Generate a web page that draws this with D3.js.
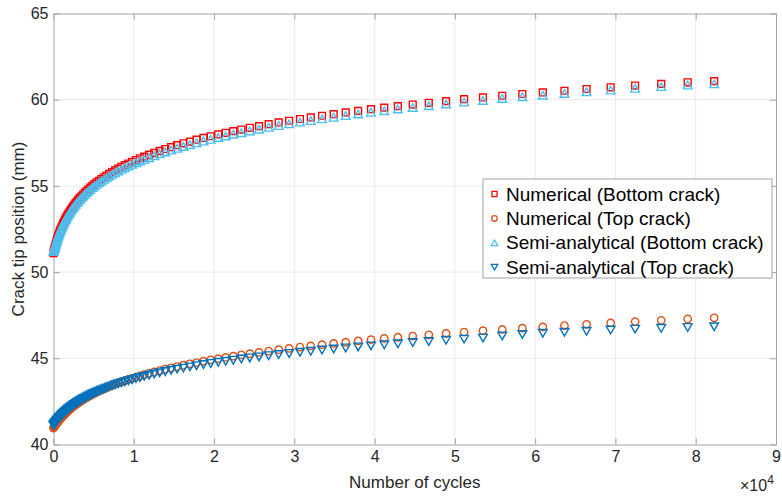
<!DOCTYPE html>
<html>
<head>
<meta charset="utf-8">
<script src="https://cdn.jsdelivr.net/npm/d3@7"></script>
<style>
  html, body { margin: 0; padding: 0; background: #fff; }
  svg { display: block; font-family: "Liberation Sans", Arial, sans-serif; }
</style>
</head>
<body>
<svg id="chart" width="782" height="496"></svg>
<script>
// Load cycle count at each recorded step (shared by all four series)
const cycles = [
  0, 50, 100, 150, 210, 270, 330, 390, 450, 520,
  600, 670, 750, 830, 920, 1000, 1100, 1190, 1300, 1400,
  1510, 1630, 1750, 1870, 2010, 2140, 2290, 2440, 2590, 2760,
  2930, 3100, 3290, 3480, 3690, 3900, 4120, 4350, 4590, 4840,
  5100, 5380, 5670, 5960, 6280, 6600, 6940, 7300, 7670, 8060,
  8460, 8880, 9330, 9790, 10270, 10770, 11300, 11900, 12550, 13220,
  13920, 14650, 15400, 16180, 16990, 17820, 18680, 19580, 20520, 21450,
  22400, 23400, 24450, 25600, 26800, 28050, 29350, 30700, 32050, 33450,
  34900, 36400, 37950, 39550, 41200, 42900, 44750, 46750, 48900, 51150,
  53500, 55900, 58400, 60950, 63650, 66400, 69400, 72450, 75700, 79000,
  82300
];

// Crack tip positions (mm)
const numericalBottom = [
  51.1, 51.2, 51.3, 51.4, 51.5, 51.6, 51.7, 51.8, 51.9, 52.0,
  52.1, 52.2, 52.3, 52.4, 52.5, 52.6, 52.7, 52.8, 52.9, 53.0,
  53.1, 53.2, 53.3, 53.4, 53.5, 53.6, 53.7, 53.8, 53.9, 54.0,
  54.1, 54.2, 54.3, 54.4, 54.5, 54.6, 54.7, 54.8, 54.9, 55.0,
  55.1, 55.2, 55.3, 55.4, 55.5, 55.6, 55.7, 55.8, 55.9, 56.0,
  56.1, 56.2, 56.3, 56.4, 56.5, 56.6, 56.70, 56.81, 56.92, 57.03,
  57.14, 57.25, 57.36, 57.47, 57.57, 57.68, 57.78, 57.88, 57.99, 58.08,
  58.18, 58.27, 58.37, 58.47, 58.58, 58.68, 58.78, 58.88, 58.97, 59.07,
  59.16, 59.26, 59.35, 59.45, 59.54, 59.63, 59.72, 59.82, 59.92, 60.03,
  60.13, 60.23, 60.33, 60.42, 60.52, 60.62, 60.72, 60.82, 60.92, 61.01,
  61.08
];

const numericalTop = [
  40.95, 40.99, 41.02, 41.06, 41.10, 41.14, 41.18, 41.21, 41.25, 41.29,
  41.34, 41.38, 41.43, 41.47, 41.52, 41.56, 41.61, 41.66, 41.71, 41.76,
  41.81, 41.86, 41.91, 41.96, 42.02, 42.07, 42.13, 42.19, 42.24, 42.30,
  42.36, 42.41, 42.47, 42.53, 42.60, 42.66, 42.72, 42.78, 42.84, 42.91,
  42.97, 43.03, 43.10, 43.16, 43.23, 43.30, 43.36, 43.43, 43.50, 43.57,
  43.63, 43.70, 43.77, 43.84, 43.91, 43.98, 44.05, 44.13, 44.21, 44.29,
  44.37, 44.45, 44.52, 44.60, 44.68, 44.75, 44.83, 44.91, 44.98, 45.05,
  45.12, 45.20, 45.27, 45.34, 45.42, 45.50, 45.57, 45.65, 45.72, 45.79,
  45.86, 45.93, 46.01, 46.08, 46.15, 46.22, 46.29, 46.36, 46.44, 46.52,
  46.60, 46.67, 46.75, 46.82, 46.90, 46.97, 47.05, 47.13, 47.20, 47.28,
  47.35
];

const semiBottom = [
  51.20, 51.27, 51.35, 51.43, 51.51, 51.60, 51.70, 51.79, 51.89, 51.99,
  52.09, 52.18, 52.28, 52.38, 52.47, 52.57, 52.66, 52.76, 52.86, 52.96,
  53.05, 53.15, 53.25, 53.35, 53.44, 53.54, 53.64, 53.73, 53.83, 53.93,
  54.03, 54.12, 54.22, 54.32, 54.42, 54.52, 54.61, 54.71, 54.80, 54.90,
  55.00, 55.09, 55.19, 55.29, 55.38, 55.48, 55.58, 55.67, 55.77, 55.87,
  55.96, 56.06, 56.16, 56.25, 56.35, 56.45, 56.54, 56.64, 56.75, 56.86,
  56.97, 57.08, 57.18, 57.29, 57.39, 57.50, 57.60, 57.70, 57.81, 57.90,
  58.00, 58.09, 58.19, 58.29, 58.40, 58.50, 58.60, 58.70, 58.79, 58.89,
  58.98, 59.08, 59.17, 59.27, 59.36, 59.46, 59.55, 59.65, 59.75, 59.86,
  59.96, 60.07, 60.17, 60.26, 60.36, 60.46, 60.56, 60.66, 60.76, 60.85,
  60.92
];

const semiTop = [
  41.10, 41.14, 41.17, 41.20, 41.24, 41.28, 41.32, 41.36, 41.39, 41.43,
  41.48, 41.52, 41.56, 41.60, 41.65, 41.69, 41.74, 41.78, 41.83, 41.87,
  41.92, 41.97, 42.02, 42.07, 42.12, 42.17, 42.22, 42.27, 42.32, 42.38,
  42.43, 42.48, 42.54, 42.59, 42.65, 42.70, 42.76, 42.81, 42.87, 42.93,
  42.98, 43.04, 43.10, 43.16, 43.22, 43.28, 43.34, 43.40, 43.46, 43.52,
  43.58, 43.64, 43.70, 43.76, 43.83, 43.89, 43.95, 44.02, 44.09, 44.16,
  44.23, 44.30, 44.37, 44.43, 44.50, 44.57, 44.64, 44.70, 44.77, 44.83,
  44.89, 44.96, 45.02, 45.08, 45.15, 45.22, 45.28, 45.35, 45.41, 45.48,
  45.54, 45.60, 45.66, 45.72, 45.78, 45.84, 45.91, 45.97, 46.04, 46.11,
  46.18, 46.30, 46.38, 46.45, 46.51, 46.57, 46.64, 46.69, 46.74, 46.79,
  46.83
];

const xTicks = [0, 10000, 20000, 30000, 40000, 50000, 60000, 70000, 80000, 90000];
const yTicks = [40, 45, 50, 55, 60, 65];

const seriesNames = [
  "Numerical (Bottom crack)",
  "Numerical (Top crack)",
  "Semi-analytical (Bottom crack)",
  "Semi-analytical (Top crack)"
];

// ---- layout ----
const plot = { left: 53.5, right: 776, top: 13.5, bottom: 444.5 };
const textColor = "#262626";
const axisColor = "#a3a3a3";
const gridColor = "#ebebeb";

const svg = d3.select("#chart");

const x = d3.scaleLinear().domain([0, 90000]).range([plot.left, plot.right]);
const y = d3.scaleLinear().domain([40, 65]).range([plot.bottom, plot.top]);

// grid
const grid = svg.append("g").attr("stroke", gridColor).attr("stroke-width", 1);
grid.selectAll("line.gx").data(xTicks.slice(1, -1)).join("line")
  .attr("x1", d => x(d)).attr("x2", d => x(d))
  .attr("y1", plot.top).attr("y2", plot.bottom);
grid.selectAll("line.gy").data(yTicks.slice(1, -1)).join("line")
  .attr("x1", plot.left).attr("x2", plot.right)
  .attr("y1", d => y(d)).attr("y2", d => y(d));

// axes (MATLAB-style box with inward ticks)
function styleAxis(g) {
  g.select(".domain").attr("stroke", axisColor);
  g.selectAll(".tick line").attr("stroke", axisColor);
  g.selectAll(".tick text").attr("fill", textColor).attr("font-size", 16)
    .attr("font-family", "'Liberation Sans', Arial, sans-serif");
}

svg.append("g").attr("transform", `translate(0,${plot.bottom})`)
  .call(d3.axisBottom(x).tickValues(xTicks).tickSizeInner(-6).tickSizeOuter(0)
    .tickPadding(6).tickFormat(d => d / 10000))
  .call(styleAxis);
svg.append("g").attr("transform", `translate(0,${plot.top})`)
  .call(d3.axisTop(x).tickValues(xTicks).tickSizeInner(-6).tickSizeOuter(0).tickFormat(""))
  .call(styleAxis);
svg.append("g").attr("transform", `translate(${plot.left},0)`)
  .call(d3.axisLeft(y).tickValues(yTicks).tickSizeInner(-6).tickSizeOuter(0)
    .tickPadding(5).tickFormat(d3.format("d")))
  .call(styleAxis);
svg.append("g").attr("transform", `translate(${plot.right},0)`)
  .call(d3.axisRight(y).tickValues(yTicks).tickSizeInner(-6).tickSizeOuter(0).tickFormat(""))
  .call(styleAxis);

// axis labels
svg.append("text")
  .attr("x", (plot.left + plot.right) / 2).attr("y", 488)
  .attr("text-anchor", "middle").attr("font-size", 17).attr("fill", textColor)
  .text("Number of cycles");

svg.append("text")
  .attr("transform", `translate(24,${(plot.top + plot.bottom) / 2}) rotate(-90)`)
  .attr("text-anchor", "middle").attr("font-size", 17).attr("fill", textColor)
  .text("Crack tip position (mm)");

// exponent label
const expo = svg.append("text").attr("x", 740).attr("y", 491)
  .attr("font-size", 16).attr("fill", textColor);
expo.append("tspan").text("\u00d710");
expo.append("tspan").attr("font-size", 12).attr("dy", -7).text("4");

// ---- markers ----
const markerPaths = {
  square: (s) => `M${-s},${-s}h${2 * s}v${2 * s}h${-2 * s}Z`,
  circle: (s) => `M${s},0A${s},${s} 0 1,1 ${-s},0A${s},${s} 0 1,1 ${s},0Z`,
  up: (s) => `M${-s * 1.15},${s}L${s * 1.15},${s}L0,${-s}Z`,
  down: (s) => `M${-s * 1.15},${-s}L${s * 1.15},${-s}L0,${s}Z`
};

const series = [
  { name: seriesNames[0], values: numericalBottom, shape: "square", size: 3.4, color: "#FF0000" },
  { name: seriesNames[1], values: numericalTop, shape: "circle", size: 3.7, color: "#D95319" },
  { name: seriesNames[2], values: semiBottom, shape: "up", size: 3.8, color: "#4DBEEE" },
  { name: seriesNames[3], values: semiTop, shape: "down", size: 3.8, color: "#0072BD" }
];

series.forEach(s => {
  svg.append("g")
    .attr("fill", "none").attr("stroke", s.color).attr("stroke-width", 1.4)
    .selectAll("path").data(s.values).join("path")
    .attr("transform", (v, i) => `translate(${x(cycles[i])},${y(v)})`)
    .attr("d", markerPaths[s.shape](s.size));
});

// ---- legend ----
const legend = svg.append("g").attr("transform", "translate(483,179)");
legend.append("rect").attr("width", 289).attr("height", 99)
  .attr("fill", "#fff").attr("stroke", axisColor).attr("stroke-width", 1);
const rows = legend.selectAll("g.row").data(series).join("g")
  .attr("transform", (d, i) => `translate(0,${15 + i * 24.4})`);
rows.append("path")
  .attr("transform", "translate(11.5,0)")
  .attr("d", d => markerPaths[d.shape](d.size * 0.75))
  .attr("fill", "none").attr("stroke", d => d.color).attr("stroke-width", 1.3);
rows.append("text")
  .attr("x", 23).attr("dy", "0.35em")
  .attr("font-size", 19).attr("fill", "#000")
  .text(d => d.name);
</script>
</body>
</html>
